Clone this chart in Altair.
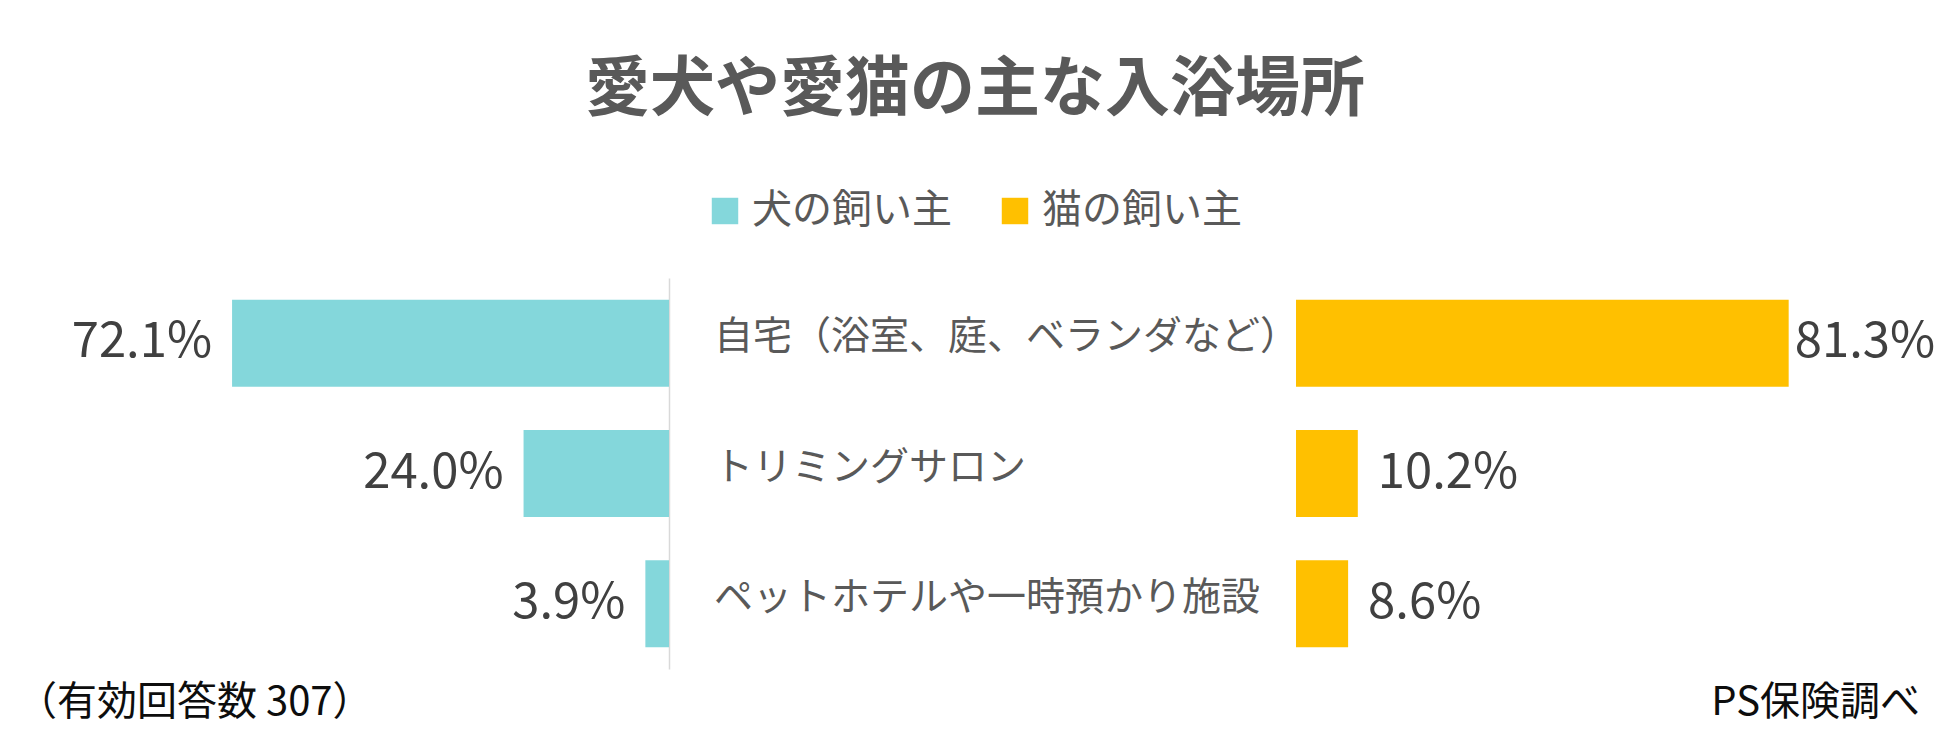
import altair as alt
import pandas as pd

# ---- data ----
places = ["自宅（浴室、庭、ベランダなど）", "トリミングサロン", "ペットホテルや一時預かり施設"]
owners = ["犬の飼い主", "猫の飼い主"]
dog_values = [72.1, 24.0, 3.9]
cat_values = [81.3, 10.2, 8.6]
colors = ["#84D7DB", "#FFC000"]

title_text = "愛犬や愛猫の主な入浴場所"
note_left = "（有効回答数 307）"
note_right = "PS保険調べ"

rows = []
for p, d, c in zip(places, dog_values, cat_values):
    rows.append({"place": p, "owner": owners[0], "value": d})
    rows.append({"place": p, "owner": owners[1], "value": c})
df = pd.DataFrame(rows)

FONT = "Noto Sans CJK JP"
W, H = 1934, 575

y_enc = alt.Y(
    "place:N",
    sort=places,
    scale=alt.Scale(range=[127, 518], paddingInner=0.333, paddingOuter=0.1667),
    axis=alt.Axis(
        title=None, labels=False, ticks=False, grid=False,
        domain=True, domainColor="#D9D9D9", domainWidth=1.5, offset=-661,
    ),
)

color_enc = alt.Color(
    "owner:N",
    scale=alt.Scale(domain=owners, range=colors),
    legend=alt.Legend(
        title=None, orient="none", legendX=697, legendY=40, direction="horizontal",
        symbolType="square", symbolSize=700, symbolStrokeWidth=0,
        labelFontSize=40, labelFont=FONT, labelColor="#595959", labelOffset=7,
        columnPadding=43, padding=0, labelLimit=400,
    ),
)

dog_x = alt.Scale(domain=[0, 100], range=[661, 55])
cat_x = alt.Scale(domain=[0, 100], range=[1288, 1894])

base = alt.Chart(df).transform_calculate(
    label="format(datum.value, '.1f') + '%'"
)

dog = base.transform_filter(alt.datum.owner == owners[0])
cat = base.transform_filter(alt.datum.owner == owners[1])

dog_bars = dog.mark_bar().encode(
    x=alt.X("value:Q", scale=dog_x, axis=None),
    y=y_enc,
    color=color_enc,
)
dog_labels = dog.mark_text(
    align="right", baseline="middle", dx=-20, dy=-1, fontSize=49, font=FONT, color="#404040"
).encode(
    x=alt.X("value:Q", scale=dog_x, axis=None),
    y=alt.Y("place:N", sort=places),
    text="label:N",
)

cat_bars = cat.mark_bar().encode(
    x=alt.X("value:Q", scale=cat_x, axis=None),
    y=alt.Y("place:N", sort=places),
    color=color_enc,
)
# labels stay inside the chart area (as the original spreadsheet chart does)
cat_labels = cat.transform_calculate(
    lx="min(datum.value, 79.0)"
).mark_text(
    align="left", baseline="middle", dx=20, dy=-1, fontSize=49, font=FONT, color="#404040"
).encode(
    x=alt.X("lx:Q", scale=cat_x, axis=None),
    y=alt.Y("place:N", sort=places),
    text="label:N",
)

cat_names = alt.Chart(pd.DataFrame({"place": places})).mark_text(
    align="left", baseline="middle", dy=-6, fontSize=39, font=FONT, color="#595959"
).encode(
    x=alt.value(706),
    y=alt.Y("place:N", sort=places),
    text="place:N",
)

notes = alt.Chart(pd.DataFrame({"t": [note_left]})).mark_text(
    align="left", baseline="middle", fontSize=40, font=FONT, color="#0D0D0D"
).encode(x=alt.value(9), y=alt.value(552), text="t:N")

notes_r = alt.Chart(pd.DataFrame({"t": [note_right]})).mark_text(
    align="right", baseline="middle", fontSize=40, font=FONT, color="#0D0D0D"
).encode(x=alt.value(1912), y=alt.value(552), text="t:N")

chart = alt.layer(
    dog_bars, dog_labels, cat_bars, cat_labels, cat_names, notes, notes_r
).resolve_scale(
    x="independent"
).properties(
    width=W,
    height=H,
    padding={"left": 0, "right": 0, "top": 50, "bottom": 0},
    title=alt.TitleParams(
        title_text, fontSize=65, font=FONT, fontWeight="bold", color="#595959",
        anchor="middle", frame="group", offset=27,
    ),
).configure(
    background="white",
    view=alt.ViewConfig(stroke="transparent", strokeWidth=0),
)

chart.save("out.html", embed_options={"renderer": "svg", "actions": False})
